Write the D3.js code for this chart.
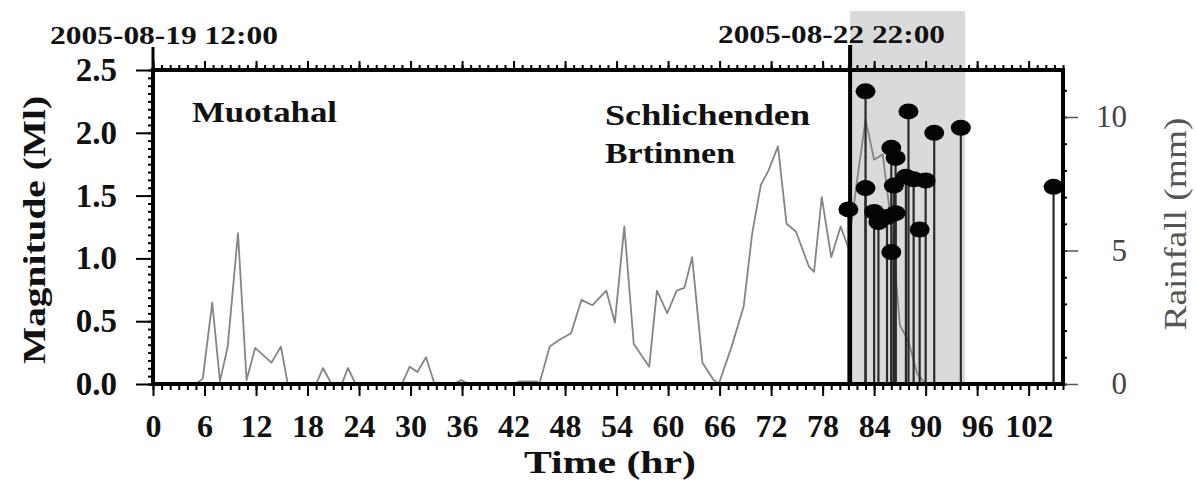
<!DOCTYPE html>
<html><head><meta charset="utf-8">
<script src="https://cdn.jsdelivr.net/npm/d3@7"></script>
<style>
body{margin:0;background:#fff}
svg{display:block;background:#fff}
text{font-family:"Liberation Serif","Times New Roman",serif}
</style>
</head><body>
<svg id="c" width="1196" height="490"></svg>
<script>
// ---------------- data ----------------
const hourTicks = [0,6,12,18,24,30,36,42,48,54,60,66,72,78,84,90,96,102];
const magTicks = [0,0.5,1,1.5,2,2.5];
const rainTicks = [0,5,10];
const startLabel = "2005-08-19 12:00";
const eventLabel = "2005-08-22 22:00";
const eventHour = 81.2;
const shadeHours = [81.2, 94.6];
const siteLabels = ["Muotahal", "Schlichenden", "Brtinnen"];
const xTitle = "Time (hr)";
const yLeftTitle = "Magnitude (Ml)";
const yRightTitle = "Rainfall (mm)";

const rainHours = [0,5,5.8,6.9,7.8,8.7,9.9,10.9,11.9,13.8,14.9,15.7,19,19.8,20.8,22,22.7,23.6,29,29.9,30.8,31.8,32.8,35,35.9,36.8,42,42.7,44.7,45,46.2,47.3,48.7,49.9,51.2,52.8,53.8,54.9,56,57.8,58.7,59.9,61,61.9,62.8,64,65.3,65.9,67.4,68.8,69.8,70.8,71.7,72.8,73.8,74.9,76.4,77,77.9,79,80.1,81,82,83,84,85,86,87,88,89,90,106];
const rainMm =    [0,0,0.2,3.05,0.1,1.4,5.65,0.15,1.35,0.8,1.4,0,0,0.6,0,0,0.6,0,0,0.65,0.45,1.0,0,0,0.15,0,0,0.1,0.1,0,1.4,1.65,1.9,3.15,2.95,3.5,2.3,5.9,1.5,0.65,3.5,2.65,3.5,3.6,4.75,0.8,0.15,0,1.4,2.9,5.65,7.45,8.0,8.9,6.0,5.7,4.4,4.2,7.0,4.75,5.9,5.1,7.6,9.9,8.4,8.6,6.0,2.2,1.6,0.4,0,0];

const quakeHours = [81.0,83.0,83.0,84.0,84.5,85.5,86.0,86.5,86.3,86.5,86.0,87.7,88.0,88.6,89.3,90.0,91.0,94.1,104.9];
const quakeMag =   [1.39,2.33,1.56,1.37,1.29,1.33,1.88,1.80,1.58,1.36,1.05,1.65,2.17,1.63,1.23,1.62,2.00,2.04,1.57];

// ---------------- layout ----------------
const L = 153, R = 1063, T = 70, B = 384;
const svg = d3.select("#c");
const x = d3.scaleLinear().domain([0,106]).range([L,R]);
const yM = d3.scaleLinear().domain([0,2.5]).range([B,T]);
const yR = d3.scaleLinear().domain([0,11.76]).range([B,T]);

// shaded band
svg.append("rect")
  .attr("x", x(shadeHours[0])).attr("y", 11)
  .attr("width", x(shadeHours[1]) - x(shadeHours[0]))
  .attr("height", B - 11)
  .attr("fill", "#dadada");

// clip
svg.append("clipPath").attr("id","plot").append("rect")
  .attr("x",L).attr("y",T).attr("width",R-L).attr("height",B-T);

// rainfall line
const rain = rainHours.map((h,i)=>[h, rainMm[i]]);
svg.append("path")
  .datum(rain)
  .attr("clip-path","url(#plot)")
  .attr("fill","none")
  .attr("stroke","#858585")
  .attr("stroke-width",1.8)
  .attr("stroke-linejoin","round")
  .attr("d", d3.line().x(d=>x(d[0])).y(d=>yR(d[1])));

// stems
const quakes = quakeHours.map((h,i)=>({h, m: quakeMag[i]}));
svg.append("g").selectAll("line").data(quakes).join("line")
  .attr("x1", d=>x(d.h)).attr("x2", d=>x(d.h))
  .attr("y1", yM(0)).attr("y2", d=>yM(d.m))
  .attr("stroke","#2a2a2a").attr("stroke-width",2.2);
svg.append("g").selectAll("ellipse").data(quakes).join("ellipse")
  .attr("cx", d=>x(d.h)).attr("cy", d=>yM(d.m))
  .attr("rx", 10).attr("ry", 8).attr("fill","#050505");

// event line
svg.append("line")
  .attr("x1", x(eventHour)).attr("x2", x(eventHour))
  .attr("y1", 45).attr("y2", B)
  .attr("stroke","#000").attr("stroke-width",4);
// start marker
svg.append("line")
  .attr("x1", x(0)).attr("x2", x(0))
  .attr("y1", 47).attr("y2", T)
  .attr("stroke","#000").attr("stroke-width",3);

// ---------------- axes ----------------
function styleAxis(g){
  g.select(".domain").remove();
  g.selectAll("line").attr("stroke","#000").attr("stroke-width",2);
  g.attr("font-family",'"Liberation Serif","Times New Roman",serif');
}
const minorHours = d3.range(0,107,1);
svg.append("g").attr("transform",`translate(0,${B})`)
  .call(d3.axisBottom(x).tickValues(minorHours).tickSize(6).tickFormat(""))
  .call(styleAxis);
svg.append("g").attr("transform",`translate(0,${B})`)
  .call(d3.axisBottom(x).tickValues(hourTicks).tickSize(12).tickPadding(18).tickFormat(d3.format("d")))
  .call(styleAxis)
  .call(g=>g.selectAll("text").attr("font-size",32).attr("font-weight","bold").attr("fill","#111"));
svg.append("g").attr("transform",`translate(0,${T})`)
  .call(d3.axisTop(x).tickValues(minorHours).tickSize(5).tickFormat(""))
  .call(styleAxis);
svg.append("g").attr("transform",`translate(0,${T})`)
  .call(d3.axisTop(x).tickValues(hourTicks).tickSize(9).tickFormat(""))
  .call(styleAxis);

const minorMag = d3.range(0,2.5001,0.0625);
svg.append("g").attr("transform",`translate(${L},0)`)
  .call(d3.axisLeft(yM).tickValues(minorMag).tickSize(5).tickFormat(""))
  .call(styleAxis);
svg.append("g").attr("transform",`translate(${L},0)`)
  .call(d3.axisLeft(yM).tickValues(magTicks).tickSize(17).tickPadding(19).tickFormat(d3.format(".1f")))
  .call(styleAxis)
  .call(g=>g.selectAll("text").attr("font-size",33).attr("font-weight","bold").attr("fill","#111"));

svg.append("g").attr("transform",`translate(${R},0)`)
  .call(d3.axisRight(yR).tickValues(d3.range(0,12,1)).tickSize(4).tickFormat(""))
  .call(styleAxis);
svg.append("g").attr("transform",`translate(${R},0)`)
  .call(d3.axisRight(yR).tickValues(rainTicks).tickSize(15).tickPadding(49).tickFormat(d3.format("d")))
  .call(styleAxis)
  .call(g=>g.selectAll("line").attr("stroke","#555").attr("stroke-width",1.5))
  .call(g=>g.selectAll("text").attr("font-size",31).attr("fill","#444").attr("text-anchor","end"));

// frame
svg.append("rect").attr("x",L).attr("y",T).attr("width",R-L).attr("height",B-T)
  .attr("fill","none").attr("stroke","#000").attr("stroke-width",4);

// ---------------- text ----------------
function label(txt, px, py, size, len, opts={}){
  const t = svg.append("text").attr("x",px).attr("y",py)
    .attr("font-size",size).attr("font-weight",opts.weight||"bold")
    .attr("fill",opts.fill||"#111")
    .attr("text-anchor",opts.anchor||"start")
    .text(txt);
  if(len) t.attr("textLength",len).attr("lengthAdjust","spacingAndGlyphs");
  if(opts.rot) t.attr("transform",`rotate(${opts.rot},${px},${py})`);
  return t;
}
label(startLabel, 50, 44, 26, 228);
label(eventLabel, 718, 43, 26, 227);
label(siteLabels[0], 192, 122, 30, 145);
label(siteLabels[1], 605, 125, 30, 205);
label(siteLabels[2], 605, 163, 30, 130);
label(xTitle, 610, 473, 32, 172, {anchor:"middle"});
label(yLeftTitle, 45, 230, 32, 268, {anchor:"middle", rot:-90});
label(yRightTitle, 1186, 224, 31, 213, {anchor:"middle", rot:-90, weight:"normal", fill:"#555"});
</script>
</body></html>
